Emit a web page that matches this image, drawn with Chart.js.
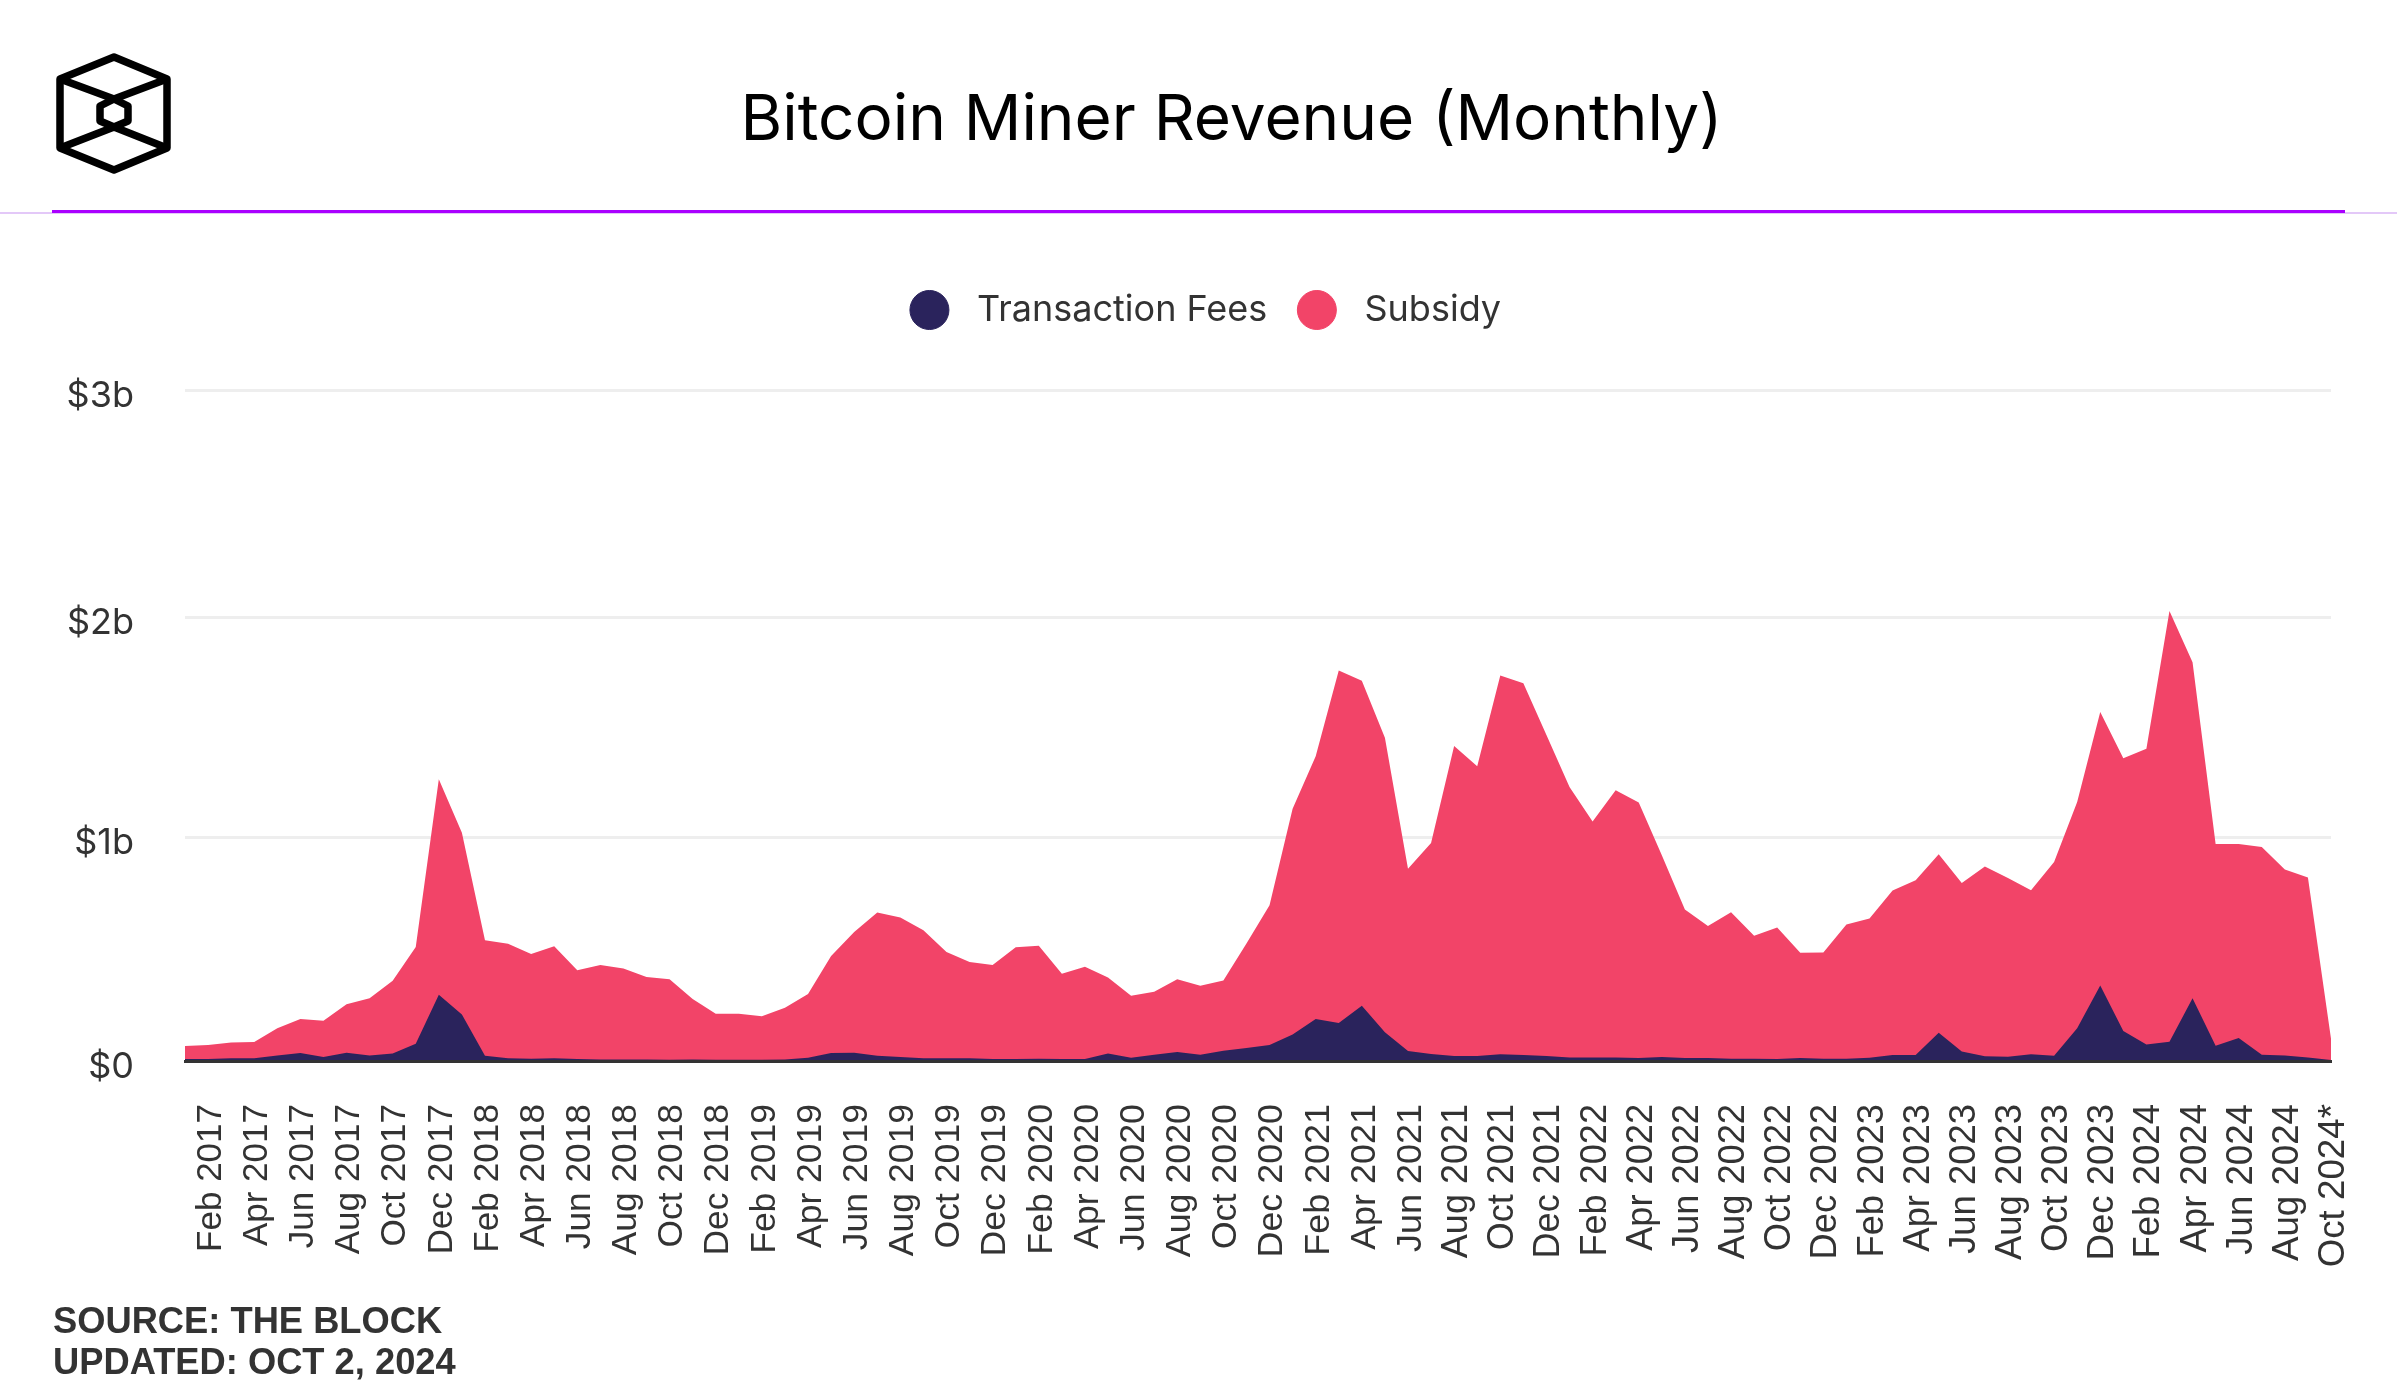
<!DOCTYPE html>
<html lang="en">
<head>
  <meta charset="UTF-8">
  <title>Bitcoin Miner Revenue (Monthly)</title>
  <script src="https://cdn.jsdelivr.net/npm/chart.js"></script>
  <style>
    html, body { margin: 0; background: #fff; }
    body { position: relative; width: 2401px; height: 1400px; overflow: hidden; }
    canvas { position: absolute; left: 0; top: 0; }
    #logo { position: absolute; left: 50px; top: 48px; }
    #title { position: absolute; left: 648px; width: 1167px; top: 77px; text-align: center;
      font: 400 63.8px/80px Inter, sans-serif; color: #000; }
    #rule-light { position: absolute; left: 0; top: 212px; width: 2397px; height: 2px; background: #e3c8f8; }
    #rule { position: absolute; left: 52px; top: 210px; width: 2293px; height: 3px; background: #aa00ff; }
    #source { position: absolute; left: 53px; top: 1300px;
      font: 700 36.3px/41px "Liberation Sans", Arial, sans-serif; color: #333; }
  </style>
</head>
<body>
  <canvas id="minerChart" width="2401" height="1400"></canvas>
  <svg id="logo" width="128" height="132" viewBox="50 48 128 132" fill="none" stroke="#000" stroke-width="7.5" stroke-linejoin="round">
    <path d="M114 57 L167 79 V148 L114 170 L60 148 V79 Z"/>
    <path d="M60 79 L114 99 L167 79"/>
    <path d="M60 148 L114 127 L167 148"/>
    <path d="M114 99 L128 106 V121 L114 127 L100 121 V106 Z"/>
  </svg>
  <div id="title">Bitcoin Miner Revenue (Monthly)</div>
  <div id="rule-light"></div>
  <div id="rule"></div>
  <div id="source">SOURCE: THE BLOCK<br>UPDATED: OCT 2, 2024</div>
<script>
  const months = [
    'Jan 2017','Feb 2017','Mar 2017','Apr 2017','May 2017','Jun 2017','Jul 2017','Aug 2017','Sep 2017','Oct 2017','Nov 2017','Dec 2017',
    'Jan 2018','Feb 2018','Mar 2018','Apr 2018','May 2018','Jun 2018','Jul 2018','Aug 2018','Sep 2018','Oct 2018','Nov 2018','Dec 2018',
    'Jan 2019','Feb 2019','Mar 2019','Apr 2019','May 2019','Jun 2019','Jul 2019','Aug 2019','Sep 2019','Oct 2019','Nov 2019','Dec 2019',
    'Jan 2020','Feb 2020','Mar 2020','Apr 2020','May 2020','Jun 2020','Jul 2020','Aug 2020','Sep 2020','Oct 2020','Nov 2020','Dec 2020',
    'Jan 2021','Feb 2021','Mar 2021','Apr 2021','May 2021','Jun 2021','Jul 2021','Aug 2021','Sep 2021','Oct 2021','Nov 2021','Dec 2021',
    'Jan 2022','Feb 2022','Mar 2022','Apr 2022','May 2022','Jun 2022','Jul 2022','Aug 2022','Sep 2022','Oct 2022','Nov 2022','Dec 2022',
    'Jan 2023','Feb 2023','Mar 2023','Apr 2023','May 2023','Jun 2023','Jul 2023','Aug 2023','Sep 2023','Oct 2023','Nov 2023','Dec 2023',
    'Jan 2024','Feb 2024','Mar 2024','Apr 2024','May 2024','Jun 2024','Jul 2024','Aug 2024','Sep 2024','Oct 2024*'
  ];

  // billions of dollars
  const transactionFees = [
    .009,.009,.012,.012,.025,.036,.018,.037,.025,.033,.077,.296,
    .208,.024,.012,.010,.012,.009,.007,.007,.007,.006,.007,.006,
    .006,.006,.007,.015,.036,.037,.024,.018,.012,.012,.012,.009,
    .009,.010,.009,.009,.033,.015,.028,.040,.028,.046,.058,.071,
    .118,.188,.170,.247,.128,.045,.031,.022,.022,.030,.027,.022,
    .016,.016,.016,.013,.018,.013,.013,.010,.010,.009,.013,.010,
    .010,.015,.027,.027,.126,.042,.021,.019,.030,.024,.146,.338,
    .134,.074,.086,.281,.068,.103,.028,.025,.016,.004
  ];
  const subsidy = [
    .058,.062,.071,.073,.121,.152,.162,.217,.255,.326,.433,.964,
    .812,.516,.512,.468,.501,.397,.422,.407,.369,.359,.270,.205,
    .205,.194,.231,.285,.433,.540,.640,.624,.573,.475,.431,.420,
    .500,.505,.381,.412,.340,.277,.282,.325,.308,.314,.467,.625,
    1.010,1.175,1.576,1.453,1.317,.814,.944,1.386,1.296,1.693,1.662,1.436,
    1.209,1.055,1.194,1.143,.902,.664,.591,.655,.550,.588,.471,.475,
    .600,.622,.735,.781,.798,.754,.849,.799,.733,.866,1.012,1.222,
    1.220,1.322,1.926,1.502,.902,.867,.929,.831,.804,.096
  ];

  const yTickValues = [0, 1, 1.984, 3];
  const yTickLabels = ['$0', '$1b', '$2b', '$3b'];

  const layoutTweaks = {
    id: 'layoutTweaks',
    beforeInit(chart) {
      // room between the legend and the top gridline
      const fit = chart.legend.fit;
      chart.legend.fit = function () {
        fit.call(this);
        this.height += 52;
      };
    },
    afterLayout(chart) {
      // tick labels are clipped to the scale box, so open it up to the left
      chart.scales.y.left = 0;
    }
  };

  new Chart(document.getElementById('minerChart').getContext('2d'), {
    type: 'line',
    plugins: [layoutTweaks],
    data: {
      labels: months,
      datasets: [
        { label: 'Transaction Fees', data: transactionFees, backgroundColor: '#2a235c', borderColor: '#2a235c' },
        { label: 'Subsidy', data: subsidy, backgroundColor: '#f24468', borderColor: '#f24468' }
      ]
    },
    options: {
      responsive: false,
      animation: false,
      devicePixelRatio: 1,
      layout: { padding: { top: 262, left: 80, right: 70, bottom: 0 } },
      elements: {
        point: { radius: 0 },
        line: { fill: 'origin', tension: 0, borderWidth: 0 }
      },
      plugins: {
        tooltip: { enabled: false },
        title: { display: false },
        legend: {
          position: 'top',
          labels: {
            usePointStyle: true,
            pointStyle: 'circle',
            boxHeight: 27.6,
            pointStyleWidth: 39,
            padding: 30,
            color: '#333',
            font: { family: 'Inter', size: 36 },
            generateLabels(chart) {
              return Chart.defaults.plugins.legend.labels.generateLabels(chart).map(l => ({ ...l, text: ' ' + l.text }));
            }
          }
        }
      },
      scales: {
        x: {
          stacked: true,
          offset: false,
          afterFit: s => { s.height = 339; s.paddingLeft = 0; s.paddingRight = 0; },
          grid: { display: false },
          border: { display: true, color: '#333', width: 3, z: 1 },
          ticks: {
            autoSkip: false,
            minRotation: 90,
            maxRotation: 90,
            padding: 35,
            labelOffset: 3,
            color: '#333',
            // the reference labels get slightly longer towards the right
            font: ctx => ({ family: '"Liberation Sans"', size: 35 + 3.5 * ctx.index / 93 }),
            callback(value, index) {
              return index % 2 === 1 ? months[index] : null;
            }
          }
        },
        y: {
          stacked: true,
          min: 0,
          max: 3,
          afterFit: s => { s.width = 105; },
          afterBuildTicks: s => { s.ticks = yTickValues.map(v => ({ value: v })); },
          grid: { color: '#eeeeee', lineWidth: 3, drawTicks: false },
          border: { display: false },
          ticks: {
            padding: 51,
            labelOffset: 6,
            color: '#333',
            font: { family: 'Inter', size: 36 },
            callback(value, index) {
              return yTickLabels[index];
            }
          }
        }
      }
    }
  });
</script>
</body>
</html>
